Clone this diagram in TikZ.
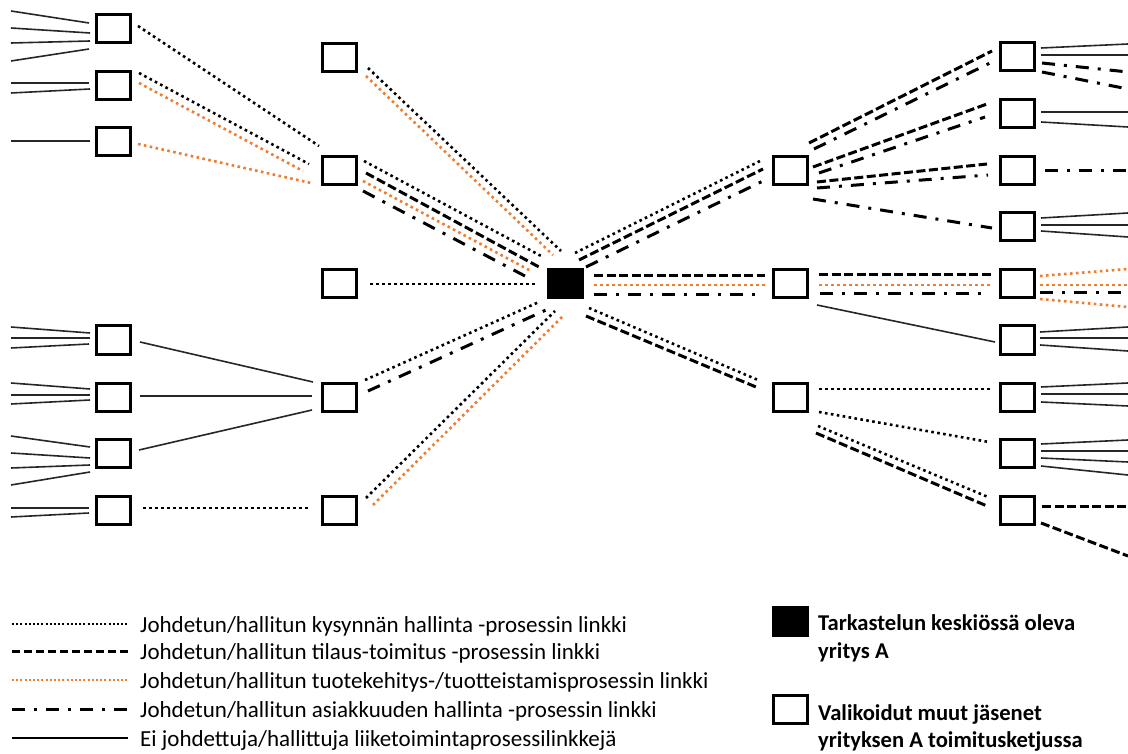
\documentclass[tikz,border=0pt]{standalone}
\usepackage{fontspec}
\setmainfont{Carlito}
\usetikzlibrary{calc}
\definecolor{proorange}{HTML}{ED7D31}
\tikzset{
  member/.style={draw=black, line width=3pt, fill=white, minimum width=34pt,
                 minimum height=28pt, inner sep=0pt},
  focal/.style={member, fill=black},
  demand/.style={draw=black, line width=2.6pt, dash pattern=on 2.6pt off 3.4pt},
  order/.style={draw=black, line width=3pt, dash pattern=on 9pt off 3.5pt},
  devel/.style={demand, draw=proorange},
  customer/.style={draw=black, line width=3pt, dash pattern=on 13pt off 9pt on 3pt off 9pt},
  plain/.style={draw=black!85, line width=1.6pt},
  keydemand/.style={draw=black, line width=2pt, dash pattern=on 2pt off 2.2pt},
  keyorder/.style={draw=black, line width=3pt, dash pattern=on 8pt off 4pt},
  keydevel/.style={keydemand, draw=proorange},
  keycustomer/.style={draw=black, line width=3pt, dash pattern=on 13pt off 9pt on 3pt off 9pt},
  keyplain/.style={draw=black, line width=1.6pt},
  keytext/.style={font=\fontsize{23}{27}\selectfont, inner sep=0pt, anchor=base west},
  keybold/.style={keytext, font=\fontsize{22.6}{27}\selectfont\bfseries},
}
% link between two members, each end given as an offset from the member's centre
\newcommand\conn[5]{\draw[#1] ($(#2)+(#3)$) -- ($(#4)+(#5)$);}
% link leaving the drawing: one end offset from a member, the other at the edge
\newcommand\fan[4]{\draw[#1] ($(#2)+(#3)$) -- (#4);}

\begin{document}
\begin{tikzpicture}[x=1pt, y=-1pt]
\useasboundingbox (0,0) rectangle (1128,754);

% outer tier, left
\node[member] (a1) at (113,29) {};
\node[member] (a2) at (113,86) {};
\node[member] (a3) at (113,142) {};
\node[member] (a4) at (113,340) {};
\node[member] (a5) at (113,397) {};
\node[member] (a6) at (113,453) {};
\node[member] (a7) at (113,510) {};
% inner tier, left
\node[member] (b1) at (339,58) {};
\node[member] (b2) at (339,171) {};
\node[member] (b3) at (339,284) {};
\node[member] (b4) at (339,397) {};
\node[member] (b5) at (339,510) {};
% focal company
\node[focal] (c) at (565,284) {};
% inner tier, right
\node[member] (d1) at (790,171) {};
\node[member] (d2) at (790,284) {};
\node[member] (d3) at (790,397) {};
% outer tier, right
\node[member] (e1) at (1017,57) {};
\node[member] (e2) at (1017,114) {};
\node[member] (e3) at (1017,171) {};
\node[member] (e4) at (1017,227) {};
\node[member] (e5) at (1017,284) {};
\node[member] (e6) at (1017,340) {};
\node[member] (e7) at (1017,397) {};
\node[member] (e8) at (1017,453) {};
\node[member] (e9) at (1017,510) {};

% links off the left edge
\fan{plain}{a1}{-24,-6}{11,11}
\fan{plain}{a1}{-23,4}{11,28}
\fan{plain}{a1}{-23,12}{11,43}
\fan{plain}{a1}{-24,20}{11,61}
\fan{plain}{a2}{-24,-3}{11,83}
\fan{plain}{a2}{-23,3}{11,93}
\fan{plain}{a3}{-23,-1}{11,141}
\fan{plain}{a4}{-23,-7}{11,327}
\fan{plain}{a4}{-23,-2}{11,338}
\fan{plain}{a4}{-24,4}{11,348}
\fan{plain}{a5}{-23,-8}{11,383}
\fan{plain}{a5}{-23,-2}{11,395}
\fan{plain}{a5}{-23,3}{11,404}
\fan{plain}{a6}{-23,-6}{11,436}
\fan{plain}{a6}{-23,5}{11,453}
\fan{plain}{a6}{-23,12}{11,468}
\fan{plain}{a6}{-23,19}{11,485}
\fan{plain}{a7}{-24,-2}{11,508}
\fan{plain}{a7}{-24,3}{11,517}

% outer left -> inner left
\conn{demand}{a1}{25,-3}{b2}{-20,-25}
\conn{demand}{a2}{26,-13}{b2}{-30,-7}
\conn{devel}{a2}{26,-3}{b2}{-36,0}
\conn{devel}{a3}{25,2}{b2}{-28,12}
\conn{plain}{a4}{27,2}{b4}{-26,-15}
\conn{plain}{a5}{27,-1}{b4}{-27,-1}
\conn{plain}{a6}{26,-3}{b4}{-27,13}
\conn{demand}{a7}{30,-2}{b5}{-31,-2}

% inner left -> focal company
\conn{demand}{b1}{29,10}{c}{-4,-33}
\conn{devel}{b1}{27,18}{c}{-12,-29}
\conn{demand}{b2}{25,-10}{c}{-22,-27}
\conn{order}{b2}{27,2}{c}{-26,-17}
\conn{devel}{b2}{24,10}{c}{-34,-13}
\conn{customer}{b2}{24,20}{c}{-40,-8}
\conn{demand}{b3}{31,0}{c}{-28,0}
\conn{demand}{b4}{26,-17}{c}{-26,18}
\conn{customer}{b4}{29,-6}{c}{-19,26}
\conn{demand}{b5}{27,-12}{c}{-10,27}
\conn{devel}{b5}{34,-5}{c}{-3,33}

% focal company -> inner right
\conn{demand}{c}{10,-31}{d1}{-28,-11}
\conn{order}{c}{14,-24}{d1}{-27,-2}
\conn{customer}{c}{21,-17}{d1}{-27,10}
\conn{order}{c}{29,-8}{d2}{-25,-8}
\conn{devel}{c}{29,1}{d2}{-25,1}
\conn{customer}{c}{29,11}{d2}{-34,11}
\conn{demand}{c}{24,24}{d3}{-32,-17}
\conn{order}{c}{21,32}{d3}{-34,-10}

% inner right -> outer right
\conn{order}{d1}{19,-28}{e1}{-25,-6}
\conn{customer}{d1}{24,-22}{e1}{-25,5}
\conn{order}{d1}{23,-4}{e2}{-30,-10}
\conn{customer}{d1}{29,2}{e2}{-32,3}
\conn{order}{d1}{27,11}{e3}{-30,-7}
\conn{customer}{d1}{27,17}{e3}{-29,4}
\conn{customer}{d1}{23,28}{e4}{-25,1}
\conn{order}{d2}{29,-9}{e5}{-25,-9}
\conn{devel}{d2}{29,1}{e5}{-25,1}
\conn{customer}{d2}{30,10}{e5}{-35,10}
\conn{plain}{d2}{27,21}{e6}{-22,2}
\conn{demand}{d3}{29,-8}{e7}{-27,-8}
\conn{demand}{d3}{29,15}{e8}{-28,-11}
\conn{demand}{d3}{28,29}{e9}{-29,-13}
\conn{order}{d3}{26,36}{e9}{-30,-4}

% links off the right edge
\fan{plain}{e1}{24,-9}{1128,44}
\fan{plain}{e1}{24,-2}{1128,55}
\fan{customer}{e1}{25,6}{1128,72}
\fan{customer}{e1}{25,15}{1128,89}
\fan{plain}{e2}{24,-2}{1128,112}
\fan{plain}{e2}{24,8}{1128,127}
\fan{customer}{e3}{28,0}{1128,171}
\fan{plain}{e4}{24,-9}{1128,213}
\fan{plain}{e4}{24,-2}{1128,225}
\fan{plain}{e4}{24,4}{1128,237}
\fan{devel}{e5}{23,-8}{1128,269}
\fan{devel}{e5}{23,1}{1128,285}
\fan{customer}{e5}{23,9}{1128,293}
\fan{devel}{e5}{23,15}{1128,307}
\fan{plain}{e6}{23,-8}{1128,327}
\fan{plain}{e6}{23,-2}{1128,338}
\fan{plain}{e6}{23,5}{1128,351}
\fan{plain}{e7}{24,-10}{1128,383}
\fan{plain}{e7}{24,-3}{1128,394}
\fan{plain}{e7}{24,5}{1128,406}
\fan{plain}{e8}{24,-9}{1128,440}
\fan{plain}{e8}{24,-2}{1128,451}
\fan{plain}{e8}{24,5}{1128,462}
\fan{plain}{e8}{24,13}{1128,475}
\fan{order}{e9}{25,-4}{1128,506}
\fan{order}{e9}{24,13}{1128,556}

% key: link types
\coordinate (k1) at (12,624);
\coordinate (k2) at (12,651);
\coordinate (k3) at (12,680);
\coordinate (k4) at (12,709);
\coordinate (k5) at (12,738);
\draw[keydemand] (k1) -- ++(116,0);
\draw[keyorder] (k2) -- ++(116,0);
\draw[keydevel] (k3) -- ++(116,0);
\draw[keycustomer] (k4) -- ++(116,0);
\draw[keyplain] (k5) -- ++(116,0);
\node[keytext] (t1) at (140,632) {Johdetun/hallitun kysynnän hallinta -prosessin linkki};
\node[keytext] (t2) at (140,659) {Johdetun/hallitun tilaus-toimitus -prosessin linkki};
\node[keytext] (t3) at (140,688) {Johdetun/hallitun tuotekehitys-/tuotteistamisprosessin linkki};
\node[keytext] (t4) at (140,717) {Johdetun/hallitun asiakkuuden hallinta -prosessin linkki};
\node[keytext] (t5) at (140,746) {Ei johdettuja/hallittuja liiketoimintaprosessilinkkejä};

% key: company types
\node[focal] (kc) at (790,621) {};
\node[keybold] (t6) at (818,630) {Tarkastelun keskiössä oleva};
\node[keybold] (t7) at (818,658) {yritys A};
\node[member] (km) at (790,709) {};
\node[keybold] (t8) at (818,720) {Valikoidut muut jäsenet};
\node[keybold] (t9) at (818,747) {yrityksen A toimitusketjussa};
\end{tikzpicture}
\end{document}
